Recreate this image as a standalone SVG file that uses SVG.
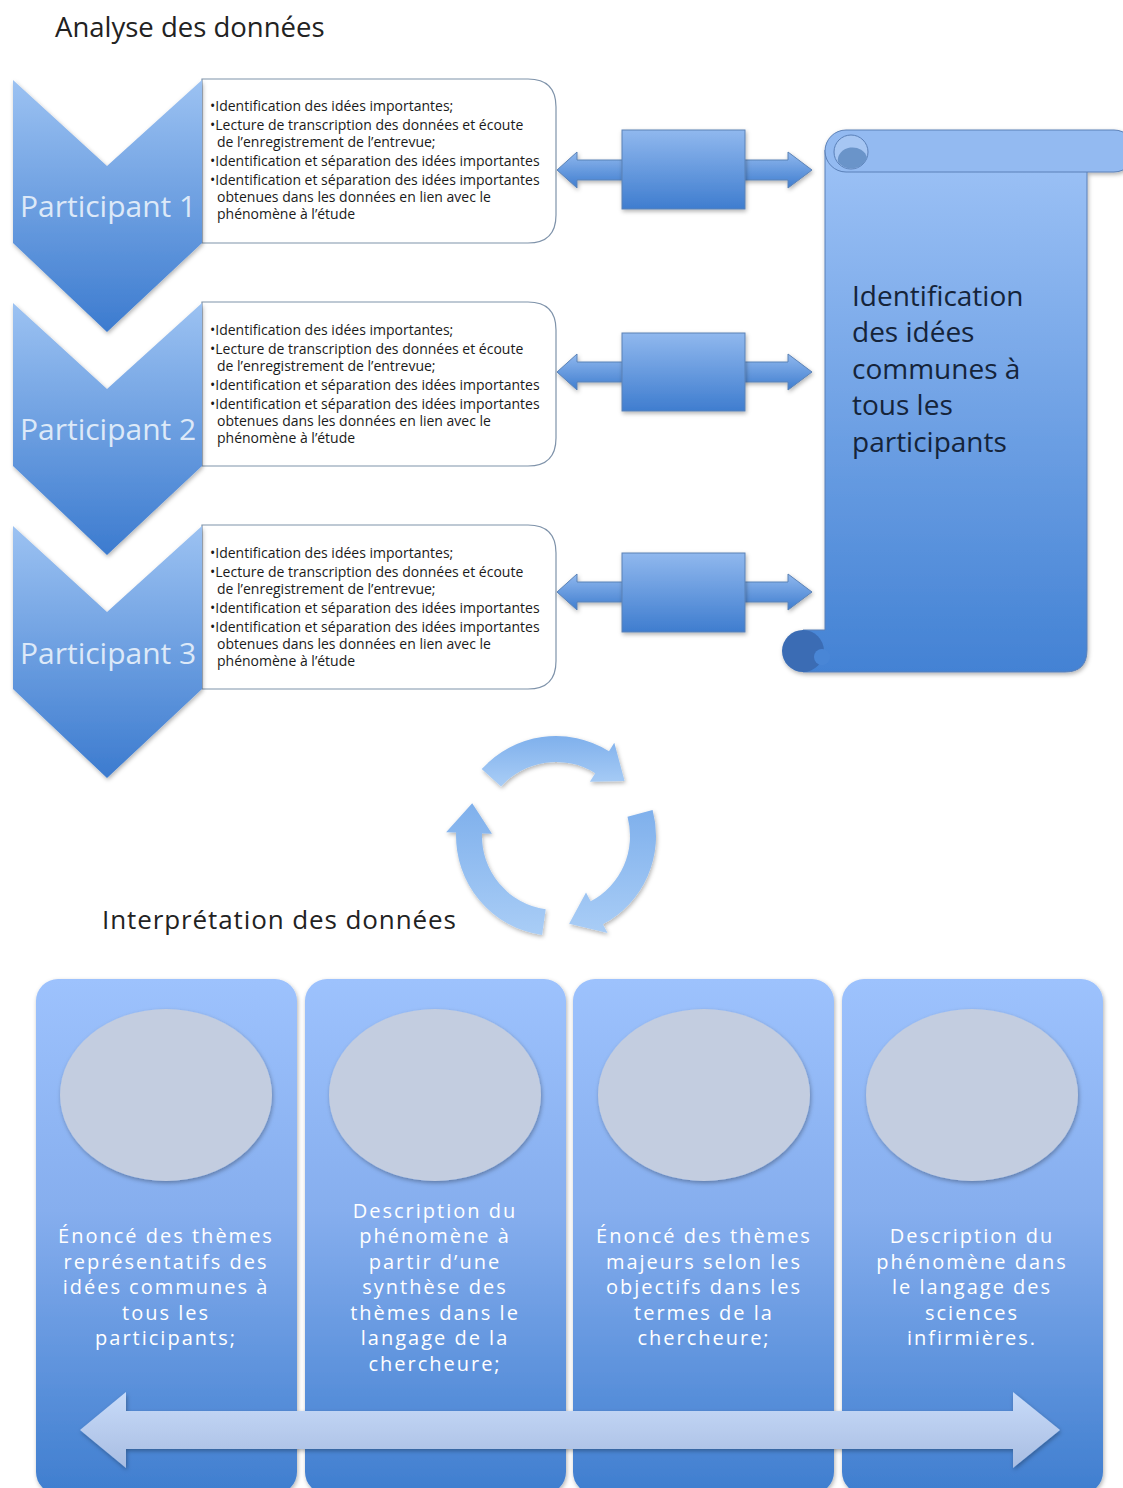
<svg xmlns="http://www.w3.org/2000/svg" width="1123" height="1488" viewBox="0 0 1123 1488">
<defs>
<linearGradient id="gChev" x1="0" y1="0" x2="0" y2="1"><stop offset="0" stop-color="#9cc2f2"/><stop offset="1" stop-color="#3c7bcf"/></linearGradient>
<linearGradient id="gConn" x1="0" y1="0" x2="0" y2="1"><stop offset="0" stop-color="#90b8ee"/><stop offset="1" stop-color="#3f7dcf"/></linearGradient>
<linearGradient id="gScroll" x1="0" y1="0" x2="0" y2="1"><stop offset="0" stop-color="#9dc2f6"/><stop offset="1" stop-color="#4382d4"/></linearGradient>
<linearGradient id="gCol" x1="0" y1="0" x2="0" y2="1"><stop offset="0" stop-color="#9dc2fd"/><stop offset="0.45" stop-color="#86aeee"/><stop offset="1" stop-color="#3f7ecf"/></linearGradient>
<linearGradient id="gCyc" x1="0" y1="0" x2="0" y2="1"><stop offset="0" stop-color="#7fb0ec"/><stop offset="1" stop-color="#a9cdf6"/></linearGradient>
<linearGradient id="gBig" x1="0" y1="0" x2="0" y2="1"><stop offset="0" stop-color="#c8dbf9"/><stop offset="1" stop-color="#a8bde2"/></linearGradient>
<filter id="sh" x="-10%" y="-10%" width="125%" height="125%"><feDropShadow dx="1" dy="2" stdDeviation="2" flood-color="#000" flood-opacity="0.3"/></filter>
<style>
.title{font-family:"Open Sans","Liberation Sans",sans-serif;fill:#222;}
.box{fill:#fff;stroke:#7f93aa;stroke-width:1.2;}
.bt{font-family:"Open Sans","Liberation Sans",sans-serif;font-size:14px;fill:#1a1a1a;}
.pt{font-family:"Open Sans","Liberation Sans",sans-serif;font-size:30px;fill:#dde9f8;}
.chev{fill:url(#gChev);filter:url(#sh);}
.conn{fill:url(#gConn);stroke:#5b82b6;stroke-width:1;filter:url(#sh);}
.st{font-family:"Open Sans","Liberation Sans",sans-serif;font-size:28px;fill:#15243a;}
.col{fill:url(#gCol);filter:url(#sh);}
.ell{fill:#c3cde0;filter:url(#sh);}
.ct{font-family:"Open Sans","Liberation Sans",sans-serif;font-size:20px;fill:#fff;letter-spacing:2px;text-anchor:middle;}
.cyc{fill:url(#gCyc);filter:url(#sh);}
</style>
</defs>
<rect width="1123" height="1488" fill="#fff"/>
<text id="title-analyse" class="title" x="55" y="37" font-size="27.5">Analyse des données</text>

<g id="participant1">
<path class="box" d="M202,79 H528 Q556,79 556,107 V215 Q556,243 528,243 H202 Z"/>
<polygon class="chev" points="13,80 107,166 202,80 202,243 107,332 13,243"/>
<text class="pt" x="20" y="217">Participant 1</text>
<text class="bt"><tspan x="210" y="111">•Identification des idées importantes;</tspan><tspan x="210" y="130">•Lecture de transcription des données et écoute</tspan><tspan x="217" y="147">de l’enregistrement de l’entrevue;</tspan><tspan x="210" y="166">•Identification et séparation des idées importantes</tspan><tspan x="210" y="185">•Identification et séparation des idées importantes</tspan><tspan x="217" y="202">obtenues dans les données en lien avec le</tspan><tspan x="217" y="219">phénomène à l’étude</tspan></text>
</g>
<g id="participant2">
<path class="box" d="M202,302 H528 Q556,302 556,330 V438 Q556,466 528,466 H202 Z"/>
<polygon class="chev" points="13,303 107,389 202,303 202,466 107,555 13,466"/>
<text class="pt" x="20" y="440">Participant 2</text>
<text class="bt"><tspan x="210" y="335">•Identification des idées importantes;</tspan><tspan x="210" y="354">•Lecture de transcription des données et écoute</tspan><tspan x="217" y="371">de l’enregistrement de l’entrevue;</tspan><tspan x="210" y="390">•Identification et séparation des idées importantes</tspan><tspan x="210" y="409">•Identification et séparation des idées importantes</tspan><tspan x="217" y="426">obtenues dans les données en lien avec le</tspan><tspan x="217" y="443">phénomène à l’étude</tspan></text>
</g>
<g id="participant3">
<path class="box" d="M202,525 H528 Q556,525 556,553 V661 Q556,689 528,689 H202 Z"/>
<polygon class="chev" points="13,526 107,612 202,526 202,689 107,778 13,689"/>
<text class="pt" x="20" y="664">Participant 3</text>
<text class="bt"><tspan x="210" y="558">•Identification des idées importantes;</tspan><tspan x="210" y="577">•Lecture de transcription des données et écoute</tspan><tspan x="217" y="594">de l’enregistrement de l’entrevue;</tspan><tspan x="210" y="613">•Identification et séparation des idées importantes</tspan><tspan x="210" y="632">•Identification et séparation des idées importantes</tspan><tspan x="217" y="649">obtenues dans les données en lien avec le</tspan><tspan x="217" y="666">phénomène à l’étude</tspan></text>
</g>

<g id="scroll">
<g filter="url(#sh)">
<path d="M825,150 H1087 V650 Q1087,672 1065,672 H803 V630 H825 Z" fill="url(#gScroll)" stroke="#5a80b8" stroke-width="1"/>
<rect x="825" y="130" width="310" height="42" rx="21" fill="#93baf1" stroke="#5a80b8" stroke-width="1"/>
<circle cx="851" cy="152" r="17" fill="#a6c6f3" stroke="#5a80b8" stroke-width="1"/>
<path d="M838,162 A17,17 0 0 0 867,158 A14,12 0 0 0 838,162 Z" fill="#6b94c9"/>
<circle cx="803" cy="651" r="21" fill="#3a6cb4"/>
<circle cx="822" cy="657" r="8" fill="#4a86d6"/>
</g>
<text class="st"><tspan x="852" y="306">Identification</tspan><tspan x="852" y="342">des idées</tspan><tspan x="852" y="379">communes à</tspan><tspan x="852" y="415">tous les</tspan><tspan x="852" y="452">participants</tspan></text>
</g>

<g id="connectors">
<g id="conn1"><polygon class="conn" points="557,170 577,152 577,160 788,160 788,152 812,170 788,188 788,180 577,180 577,188"/><rect class="conn" x="622" y="130" width="123" height="79"/></g>
<g id="conn2"><polygon class="conn" points="557,372 577,354 577,362 788,362 788,354 812,372 788,390 788,382 577,382 577,390"/><rect class="conn" x="622" y="333" width="123" height="78"/></g>
<g id="conn3"><polygon class="conn" points="557,592 577,574 577,582 788,582 788,574 812,592 788,610 788,602 577,602 577,610"/><rect class="conn" x="622" y="553" width="123" height="79"/></g>
<g id="cycle">
<path class="cyc" d="M481.7,769.1 A100,100 0 0 1 609.0,751.2 L614.3,742.7 L624.6,781.1 L589.9,781.7 L595.2,773.2 A74,74 0 0 0 501.0,786.5 Z"/>
<path class="cyc" d="M652.6,810.1 A100,100 0 0 1 602.9,924.3 L607.6,933.1 L569.1,923.7 L586.0,892.5 L590.7,901.3 A74,74 0 0 0 627.5,816.8 Z"/>
<path class="cyc" d="M542.1,935.0 A100,100 0 0 1 456.1,832.5 L446.1,832.2 L472.2,803.2 L492.0,833.8 L482.0,833.4 A74,74 0 0 0 545.7,909.3 Z"/>
</g>
</g>

<text id="title-interpretation" class="title" x="102" y="929" font-size="26" letter-spacing="0.9">Interprétation des données</text>

<g id="col1">
<rect class="col" x="36" y="979" width="261" height="515" rx="22"/>
<ellipse class="ell" cx="166" cy="1095" rx="106" ry="86"/>
<text class="ct"><tspan x="166" y="1243">Énoncé des thèmes</tspan><tspan x="166" y="1269">représentatifs des</tspan><tspan x="166" y="1294">idées communes à</tspan><tspan x="166" y="1320">tous les</tspan><tspan x="166" y="1345">participants;</tspan></text>
</g>
<g id="col2">
<rect class="col" x="305" y="979" width="261" height="515" rx="22"/>
<ellipse class="ell" cx="435" cy="1095" rx="106" ry="86"/>
<text class="ct"><tspan x="435" y="1218">Description du</tspan><tspan x="435" y="1243">phénomène  à</tspan><tspan x="435" y="1269">partir d’une</tspan><tspan x="435" y="1294">synthèse des</tspan><tspan x="435" y="1320">thèmes dans le</tspan><tspan x="435" y="1345">langage de la</tspan><tspan x="435" y="1371">chercheure;</tspan></text>
</g>
<g id="col3">
<rect class="col" x="573" y="979" width="261" height="515" rx="22"/>
<ellipse class="ell" cx="704" cy="1095" rx="106" ry="86"/>
<text class="ct"><tspan x="704" y="1243">Énoncé des thèmes</tspan><tspan x="704" y="1269">majeurs selon les</tspan><tspan x="704" y="1294">objectifs dans les</tspan><tspan x="704" y="1320">termes de la</tspan><tspan x="704" y="1345">chercheure;</tspan></text>
</g>
<g id="col4">
<rect class="col" x="842" y="979" width="261" height="515" rx="22"/>
<ellipse class="ell" cx="972" cy="1095" rx="106" ry="86"/>
<text class="ct"><tspan x="972" y="1243">Description du</tspan><tspan x="972" y="1269">phénomène  dans</tspan><tspan x="972" y="1294">le langage des</tspan><tspan x="972" y="1320">sciences</tspan><tspan x="972" y="1345">infirmières.</tspan></text>
</g>

<g id="bottom-arrow">
<polygon points="80,1430 126,1392 126,1411 1013,1411 1013,1392 1060,1430 1013,1468 1013,1449 126,1449 126,1468" fill="url(#gBig)" filter="url(#sh)"/>
</g>
</svg>
